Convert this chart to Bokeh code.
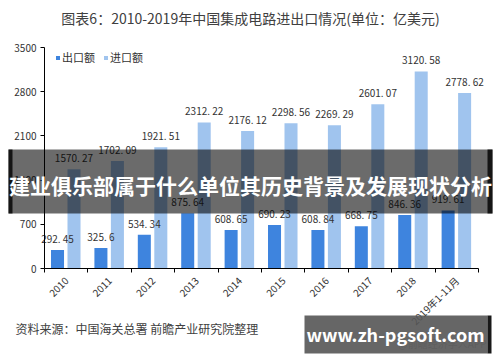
import math
from bokeh.plotting import figure
from bokeh.models import (Range1d, FixedTicker, Label, BoxAnnotation, Legend, LegendItem,
                          ColumnDataSource)
from bokeh.core.properties import value
from bokeh.embed import file_html
from bokeh.resources import INLINE

years = ["2010", "2011", "2012", "2013", "2014", "2015", "2016", "2017", "2018", "2019年1-11月"]
exports = [292.45, 325.6, 534.34, 875.64, 608.65, 690.23, 608.84, 668.75, 846.36, 919.61]
imports = [1570.27, 1702.09, 1921.51, 2312.22, 2176.12, 2298.56, 2269.29, 2601.07, 3120.58, 2778.62]
y_ticks = [0, 700, 1400, 2100, 2800, 3500]

FONT = "Noto Sans CJK SC"
W, H = 500, 362
L, R, T, B = 44, 478, 47, 268      # plot area in canvas pixels
YMAX = 3500
N = len(years)

# frame covers the whole canvas; ranges chosen so the data area sits at L..R, T..B
xpp = N / (R - L)
ypp = YMAX / (B - T)
p = figure(width=W, height=H, output_backend="svg", toolbar_location=None,
           x_range=Range1d(-L * xpp, N + (W - R) * xpp),
           y_range=Range1d(-(H - B) * ypp, YMAX + T * ypp),
           min_border=0)
p.outline_line_color = None
p.xgrid.visible = False
p.ygrid.visible = False
p.background_fill_color = "white"
p.border_fill_color = "white"

ex_x = [i + 0.30 for i in range(N)]
im_x = [i + 0.68 for i in range(N)]
fmt = lambda v: (f"{v}").replace(".", ". ")
src_e = ColumnDataSource(dict(x=ex_x, top=exports, lab=[fmt(v) for v in exports]))
src_i = ColumnDataSource(dict(x=im_x, top=imports, lab=[fmt(v) for v in imports]))

re = p.vbar(x="x", top="top", width=0.30, source=src_e, fill_color="#3e84de", line_color=None)
ri = p.vbar(x="x", top="top", width=0.30, source=src_i, fill_color="#a0c4ee", line_color=None)

for s in (src_e, src_i):
    p.text(x="x", y="top", text="lab", source=s, text_align="center", text_baseline="bottom",
           y_offset=-4, text_font_size="10px", text_color="#333333", text_font=value(FONT))

# axes, pinned to the data origin
yax = p.yaxis[0]
yax.fixed_location = 0
yax.bounds = (0, YMAX)
yax.ticker = FixedTicker(ticks=y_ticks)
yax.axis_line_color = "black"
yax.major_tick_line_color = "black"
yax.major_tick_out = 4
yax.major_tick_in = 0
yax.minor_tick_line_color = None
yax.major_label_text_font_size = "10px"
yax.major_label_text_color = "#333333"
yax.major_label_text_font = FONT
yax.major_label_standoff = 4

xax = p.xaxis[0]
xax.fixed_location = 0
xax.bounds = (0, N)
centers = [i + 0.5 for i in range(N)]
xax.ticker = FixedTicker(ticks=centers, minor_ticks=list(range(N + 1)))
xax.major_label_overrides = {c: y for c, y in zip(centers, years)}
xax.major_tick_line_color = None
xax.minor_tick_line_color = "black"
xax.minor_tick_out = 4
xax.minor_tick_in = 0
xax.axis_line_color = "black"
xax.major_label_orientation = math.pi / 4
xax.major_label_text_font_size = "10px"
xax.major_label_text_color = "#333333"
xax.major_label_text_font = FONT
xax.major_label_standoff = 4

legend = Legend(items=[LegendItem(label="出口额", renderers=[re]),
                       LegendItem(label="进口额", renderers=[ri])],
                orientation="horizontal", location=(55, 297), background_fill_alpha=0,
                border_line_color=None, glyph_width=5, glyph_height=5, label_text_font_size="11px",
                label_text_font=FONT, label_text_color="#333333", spacing=8, padding=2,
                label_standoff=2, margin=0, label_height=12)
p.add_layout(legend)

def lab(x, y, text, **kw):
    p.add_layout(Label(x=x, y=y, x_units="canvas", y_units="canvas", text=text,
                       text_font=FONT, **kw))

def box(l, r, t, b, **kw):
    p.add_layout(BoxAnnotation(left=l, right=r, top=t, bottom=b, left_units="canvas",
                               right_units="canvas", top_units="canvas", bottom_units="canvas",
                               line_color=None, **kw))

# title and source
lab(250, 17, "图表6：2010-2019年中国集成电路进出口情况(单位：亿美元)", text_align="center",
    text_baseline="middle", text_font_size="14px", text_color="#404040")
lab(15, 328, "资料来源：中国海关总署 前瞻产业研究院整理", text_align="left",
    text_baseline="middle", text_font_size="12px", text_color="#404040")

# overlay banner
box(8, 492, 149, 213, fill_color="black", fill_alpha=0.58)
box(8, 12, 149, 213, fill_color="black", fill_alpha=0.8)
box(487, 492, 149, 213, fill_color="black", fill_alpha=0.8)
lab(250, 184, "建业俱乐部属于什么单位其历史背景及发展现状分析", text_align="center",
    text_baseline="middle", text_font_size="21px", text_font_style="bold", text_color="white")

# bottom-right url box
lab(486, 343, "@前瞻经济学人APP", text_align="right", text_baseline="middle",
    text_font_size="10px", text_color="#aaaaaa")
box(304, 487, 315, 353, fill_color="#555555", fill_alpha=0.9)
box(487, 491, 315, 353, fill_color="black", fill_alpha=0.9)
lab(395, 333, "www.zh-pgsoft.com", text_align="center", text_baseline="middle",
    text_font_size="18px", text_font_style="bold", text_color="white")

open("out.html", "w").write(file_html(p, INLINE))
